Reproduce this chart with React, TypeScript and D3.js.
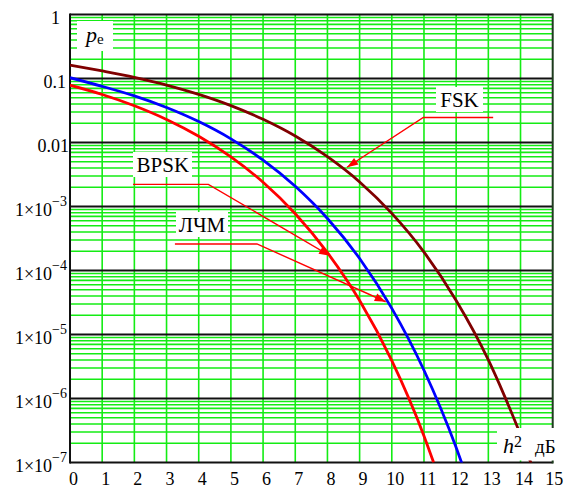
import React from "react";
import * as d3 from "d3";

// ---- data ----
const xTicks = [0, 1, 2, 3, 4, 5, 6, 7, 8, 9, 10, 11, 12, 13, 14, 15];
const yDecades = [1, 0.1, 0.01, 1e-3, 1e-4, 1e-5, 1e-6, 1e-7];
const yTickLabels = ["1", "0.1", "0.01", "1×10", "1×10", "1×10", "1×10", "1×10"];
const yTickExps = ["", "", "", "−3", "−4", "−5", "−6", "−7"];

const bpskH = [0, 1, 2, 3, 4, 5, 6, 7, 8, 9, 10, 11, 11.3];
const bpskP = [0.0786, 0.0563, 0.0375, 0.0229, 0.0125, 0.00595, 0.00239, 7.7e-4, 1.9e-4, 3.4e-5, 3.9e-6, 2.6e-7, 1.0e-7];

const lfmH = [0, 1, 2, 3, 4, 5, 6, 7, 8, 9, 10, 11, 12, 12.2];
const lfmP = [0.103, 0.0754, 0.0535, 0.0352, 0.0212, 0.0114, 0.0053, 0.00207, 6.5e-4, 1.54e-4, 2.56e-5, 2.76e-6, 1.71e-7, 0.9e-7];

const fskH = [0, 1, 2, 3, 4, 5, 6, 7, 8, 9, 10, 11, 12, 13, 13.5, 14, 14.4];
const fskP = [0.162, 0.131, 0.104, 0.0789, 0.0565, 0.0377, 0.023, 0.0126, 0.006, 0.00242, 7.8e-4, 1.94e-4, 3.4e-5, 4.0e-6, 1.1e-6, 2.7e-7, 7.7e-8];

// annotations (elbow/start points and arrow tip in data coords)
const annotations = [
  { text: "FSK", start: [13.15, 0.0246], elbow: [10.98, 0.0246], tip: [8.61, 4.1e-3] },
  { text: "BPSK", start: [1.96, 2.22e-3], elbow: [4.3, 2.22e-3], tip: [8.08, 1.7e-4] },
  { text: "ЛЧМ", start: [3.26, 2.6e-4], elbow: [5.81, 2.6e-4], tip: [9.81, 3.25e-5] },
];

const W = 571;
const H = 487;
const L = 70, R = 552.7, T = 14.5, B = 462.5;
const GREEN = "#14ec14";
const FAM = '"Liberation Serif", "Times New Roman", Tinos, serif';
const TS: React.CSSProperties = { fontFamily: FAM };

export default function App() {
  const x = d3.scaleLinear().domain([0, 15]).range([L, R]);
  const y = d3.scaleLog().domain([1e-7, 1]).range([B, T]);

  const minor: number[] = [];
  for (let e = -7; e < 0; e++) for (let k = 2; k <= 9; k++) minor.push(k * Math.pow(10, e));

  const line = d3
    .line<[number, number]>()
    .x((d) => x(d[0]))
    .y((d) => y(d[1]))
    .curve(d3.curveMonotoneX);

  const series = [
    { h: fskH, p: fskP, color: "#800000" },
    { h: lfmH, p: lfmP, color: "#0000ff" },
    { h: bpskH, p: bpskP, color: "#ff0000" },
  ];

  const arrowHead = (x0: number, y0: number, x1: number, y1: number) => {
    const dx = x1 - x0, dy = y1 - y0;
    const len = Math.hypot(dx, dy);
    const ux = dx / len, uy = dy / len;
    const hl = 11, hw = 4;
    const bx = x1 - ux * hl, by = y1 - uy * hl;
    return `M${x1},${y1}L${bx - uy * hw},${by + ux * hw}L${bx + uy * hw},${by - ux * hw}Z`;
  };

  const boxes = [
    { cx: 459.5, base: 107, x0: 436, x1: 483, y0: 87, y1: 112 },
    { cx: 162.8, base: 172, x0: 133, x1: 192, y0: 152, y1: 177 },
    { cx: 202, base: 232, x0: 176, x1: 228, y0: 212, y1: 237 },
  ];

  return (
    <svg width={W} height={H} style={{ position: "absolute", left: 0, top: 0, background: "#fff", fontFamily: FAM }} fontFamily={FAM}>
      <style>{`text, tspan { font-family: "Liberation Serif", "Times New Roman", Tinos, serif !important; }`}</style>
      <defs>
        <clipPath id="plot">
          <rect x={L} y={T} width={R - L} height={B - T} />
        </clipPath>
      </defs>
      {minor.map((v, i) => (
        <line key={"m" + i} x1={L} x2={R} y1={y(v)} y2={y(v)} stroke={GREEN} strokeWidth={1.6} />
      ))}
      {xTicks.slice(1, -1).map((t) => (
        <line key={"v" + t} x1={x(t)} x2={x(t)} y1={T} y2={B} stroke={GREEN} strokeWidth={1.6} />
      ))}
      {yDecades.map((v, i) => (
        <line key={"d" + i} x1={L} x2={R} y1={y(v)} y2={y(v)} stroke="#111" strokeWidth={1.8} />
      ))}
      <line x1={L} x2={L} y1={T - 1} y2={B + 1} stroke="#111" strokeWidth={2} />
      <line x1={R} x2={R} y1={T - 1} y2={B + 1} stroke="#1d3a1d" strokeWidth={2} />

      <g clipPath="url(#plot)">
        {series.map((s, i) => (
          <path
            key={"s" + i}
            d={line(s.h.map((h, j) => [h, s.p[j]] as [number, number])) || ""}
            fill="none"
            stroke={s.color}
            strokeWidth={2.8}
          />
        ))}
      </g>

      <rect x={77} y={21} width={36} height={30} fill="#fff" />
      <text x={86} y={42} fontSize={22} style={TS}>
        <tspan fontStyle="italic">p</tspan>
        <tspan fontSize={15} dy={2}>e</tspan>
      </text>

      <rect x={497} y={428} width={57} height={32.5} fill="#fff" />
      <text x={503} y={453} fontSize={22} style={TS}>
        <tspan fontStyle="italic">h</tspan>
        <tspan fontSize={16} dy={-6}>2</tspan>
      </text>
      <text x={535} y={453} fontSize={19} style={TS}>дБ</text>

      {annotations.map((a, i) => {
        const sx = x(a.start[0]), sy = y(a.start[1]);
        const ex = x(a.elbow[0]), ey = y(a.elbow[1]);
        const tx = x(a.tip[0]), ty = y(a.tip[1]);
        const b = boxes[i];
        return (
          <g key={"a" + i}>
            <rect x={b.x0} y={b.y0} width={b.x1 - b.x0} height={b.y1 - b.y0} fill="#fff" />
            <text x={b.cx} y={b.base} fontSize={21} textAnchor="middle" style={TS}>
              {a.text}
            </text>
            <polyline points={`${sx},${sy} ${ex},${ey} ${tx},${ty}`} fill="none" stroke="#ff0000" strokeWidth={1.4} />
            <path d={arrowHead(ex, ey, tx, ty)} fill="#ff0000" />
          </g>
        );
      })}

      {yDecades.map((v, i) => {
        const yy = y(v) + 9.5;
        if (yTickExps[i] === "") {
          return (
            <text key={"yl" + i} x={i === 0 ? 60 : i === 1 ? 66 : 69} y={yy} fontSize={18} textAnchor="end" style={TS}>
              {yTickLabels[i]}
            </text>
          );
        }
        return (
          <text key={"yl" + i} x={67} y={yy} fontSize={18} textAnchor="end" style={TS}>
            {yTickLabels[i]}
            <tspan fontSize={14} dy={-10}>{yTickExps[i]}</tspan>
          </text>
        );
      })}

      {xTicks.map((t) => (
        <text key={"xl" + t} x={x(t) + (t === 15 ? 1.5 : 3.5)} y={484.5} fontSize={18} textAnchor="middle" style={TS}>
          {t}
        </text>
      ))}
    </svg>
  );
}
